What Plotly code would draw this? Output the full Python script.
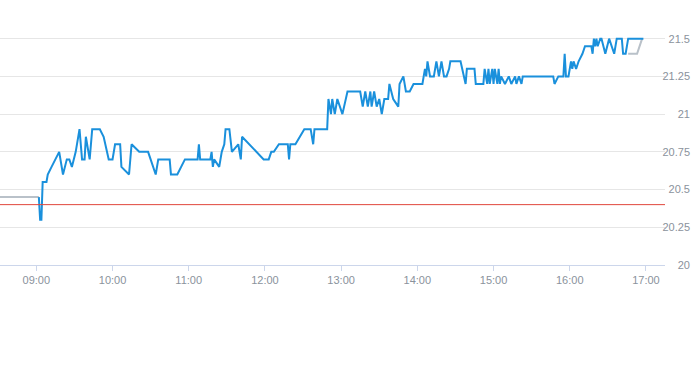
import plotly.graph_objects as go

DAY = "2024-01-02 "

# Pre-market (grey) series
pre_times = ["08:30", "09:02"]
pre_values = [20.45, 20.45]

# Main session (blue) series
blue_times = [
    "09:02", "09:03", "09:04", "09:05", "09:08", "09:09", "09:12", "09:18", "09:21", "09:24",
    "09:26", "09:28", "09:31", "09:34", "09:36", "09:38", "09:39", "09:40", "09:42", "09:44",
    "09:50", "09:53", "09:57", "10:00", "10:02", "10:06", "10:07", "10:13", "10:15", "10:21",
    "10:28", "10:30", "10:34", "10:36", "10:45", "10:46", "10:51", "10:57", "11:07", "11:08",
    "11:09", "11:17", "11:18", "11:19", "11:20", "11:24", "11:26", "11:28", "11:29", "11:32",
    "11:34", "11:39", "11:41", "11:42", "11:59", "12:03", "12:05", "12:07", "12:11", "12:18",
    "12:19", "12:20", "12:24", "12:31", "12:36", "12:38", "12:39", "12:49", "12:50", "12:52",
    "12:53", "12:55", "12:57", "13:01", "13:05", "13:15", "13:17", "13:19", "13:21", "13:23",
    "13:24", "13:26", "13:28", "13:30", "13:32", "13:34", "13:37", "13:38", "13:41", "13:45",
    "13:46", "13:49", "13:51", "13:54", "13:57", "14:04", "14:05", "14:06", "14:07", "14:08",
    "14:10", "14:13", "14:14", "14:15", "14:17", "14:19", "14:21", "14:23", "14:25", "14:26",
    "14:34", "14:38", "14:39", "14:45", "14:46", "14:52", "14:53", "14:55", "14:56", "14:57",
    "14:59", "15:00", "15:01", "15:03", "15:04", "15:05", "15:06", "15:09", "15:12", "15:14",
    "15:17", "15:18", "15:20", "15:22", "15:23", "15:47", "15:48", "15:51", "15:55", "15:56",
    "15:57", "15:59", "16:01", "16:02", "16:03", "16:05", "16:07", "16:10", "16:12", "16:17",
    "16:18", "16:19", "16:20", "16:21", "16:22", "16:24", "16:25", "16:28", "16:31", "16:35",
    "16:37", "16:41", "16:42", "16:44", "16:46", "16:58",
]
blue_values = [
    20.45, 20.3, 20.3, 20.55, 20.55, 20.6, 20.65, 20.75, 20.6, 20.7,
    20.7, 20.65, 20.75, 20.9, 20.7, 20.7, 20.85, 20.8, 20.7, 20.9,
    20.9, 20.85, 20.7, 20.7, 20.8, 20.8, 20.65, 20.6, 20.8, 20.75,
    20.75, 20.7, 20.6, 20.7, 20.7, 20.6, 20.6, 20.7, 20.7, 20.8,
    20.7, 20.7, 20.75, 20.65, 20.7, 20.65, 20.75, 20.8, 20.9, 20.9,
    20.75, 20.8, 20.7, 20.85, 20.7, 20.7, 20.75, 20.75, 20.8, 20.8,
    20.7, 20.8, 20.8, 20.9, 20.9, 20.8, 20.9, 20.9, 21.1, 21.0,
    21.1, 21.0, 21.1, 21.0, 21.15, 21.15, 21.05, 21.15, 21.05, 21.15,
    21.05, 21.15, 21.05, 21.1, 21.0, 21.1, 21.1, 21.2, 21.1, 21.05,
    21.2, 21.25, 21.15, 21.15, 21.2, 21.2, 21.25, 21.3, 21.25, 21.35,
    21.25, 21.25, 21.3, 21.35, 21.25, 21.35, 21.25, 21.25, 21.3, 21.35,
    21.35, 21.2, 21.3, 21.3, 21.2, 21.2, 21.3, 21.2, 21.3, 21.2,
    21.3, 21.2, 21.3, 21.2, 21.3, 21.2, 21.25, 21.2, 21.25, 21.2,
    21.25, 21.2, 21.25, 21.2, 21.25, 21.25, 21.2, 21.25, 21.25, 21.4,
    21.25, 21.25, 21.35, 21.3, 21.35, 21.3, 21.35, 21.4, 21.45, 21.45,
    21.4, 21.5, 21.45, 21.5, 21.45, 21.5, 21.5, 21.4, 21.5, 21.4,
    21.5, 21.5, 21.4, 21.4, 21.5, 21.5,
]

# After-hours (grey) series
post_times = ["16:46", "16:53", "16:57"]
post_values = [21.4, 21.4, 21.5]

# Reference level (red line)
ref_level = 20.4

# Axis settings
x_start, x_end = "08:31:24", "17:15"
y_min, y_max = 20, 21.69
y_step = 0.25

GREY = "#b9c1c9"
BLUE = "#1a90dc"
LABEL = "#8a929c"

fig = go.Figure()
fig.add_trace(go.Scatter(x=[DAY + t for t in pre_times], y=pre_values, mode="lines",
                         line=dict(color=GREY, width=2), hoverinfo="skip"))
fig.add_trace(go.Scatter(x=[DAY + t for t in post_times], y=post_values, mode="lines",
                         line=dict(color=GREY, width=2), hoverinfo="skip"))
fig.add_trace(go.Scatter(x=[DAY + t for t in blue_times], y=blue_values, mode="lines",
                         line=dict(color=BLUE, width=2), hoverinfo="skip"))
fig.add_hline(y=ref_level, line=dict(color="#e0463c", width=1), layer="above")

fig.update_layout(
    width=693, height=365,
    margin=dict(l=0, r=3, t=10, b=100, autoexpand=False),
    paper_bgcolor="white", plot_bgcolor="white",
    showlegend=False,
    font=dict(family="Liberation Sans, Arial, sans-serif", size=11, color=LABEL),
    xaxis=dict(
        type="date", range=[DAY + x_start, DAY + x_end], domain=[0, 665 / 690],
        tickformat="%H:%M", dtick=3600000, tick0=DAY + "09:00",
        ticks="outside", ticklen=5, tickcolor="#ccd6eb",
        showline=True, linecolor="#ccd6eb", linewidth=1,
        showgrid=False, zeroline=False, automargin=False,
        tickfont=dict(size=11, color=LABEL),
    ),
    yaxis=dict(
        range=[y_min, y_max], dtick=y_step, tick0=y_min,
        anchor="free", position=1, side="left",
        showgrid=True, gridcolor="#e6e6e6", gridwidth=1,
        showline=False, zeroline=False, ticks="", automargin=False,
        tickfont=dict(size=11, color=LABEL),
    ),
)

fig.write_html("out.html", config={"displayModeBar": False},
               post_script="document.body.style.margin='0';document.body.style.overflow='hidden';")
